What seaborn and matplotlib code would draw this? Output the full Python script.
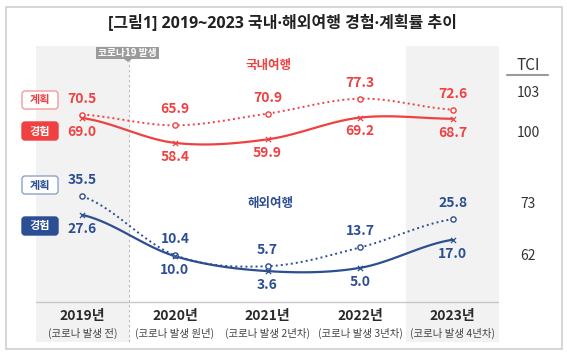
import numpy as np
import pandas as pd
import matplotlib
matplotlib.use('Agg')
import matplotlib.pyplot as plt
from matplotlib.patches import FancyBboxPatch, Rectangle, Polygon
import seaborn as sns

# data
years = ['2019년', '2020년', '2021년', '2022년', '2023년']
sub_labels = ['(코로나 발생 전)', '(코로나 발생 원년)', '(코로나 발생 2년차)',
              '(코로나 발생 3년차)', '(코로나 발생 4년차)']
dom_plan = [70.5, 65.9, 70.9, 77.3, 72.6]
dom_exp = [69.0, 58.4, 59.9, 69.2, 68.7]
ovs_plan = [35.5, 10.4, 5.7, 13.7, 25.8]
ovs_exp = [27.6, 10.0, 3.6, 5.0, 17.0]
tci_values = ['103', '100', '73', '62']

RED = '#EF4141'
RED_LIGHT = '#F59A9A'
BLUE = '#2C4E92'
BLUE_LIGHT = '#8EA2C8'
SHADE = '#F2F2F2'
TXT = '#333333'

sns.set_theme(style='white')
plt.rcParams['font.family'] = ['Noto Sans CJK KR', 'DejaVu Sans']
MIX = ['Open Sans', 'Noto Sans CJK KR']  # latin middle dot is narrower here


def smooth(vals, n=30):
    # catmull-rom curve through the points (like excel smoothed line)
    p = np.array(vals, dtype=float)
    p = np.concatenate([[p[0]], p, [p[-1]]])
    xs, ys = [], []
    t = np.linspace(0, 1, n, endpoint=False)
    for i in range(1, len(p) - 2):
        p0, p1, p2, p3 = p[i - 1], p[i], p[i + 1], p[i + 2]
        y = 0.5 * (2 * p1 + (-p0 + p2) * t + (2 * p0 - 5 * p1 + 4 * p2 - p3) * t ** 2
                   + (-p0 + 3 * p1 - 3 * p2 + p3) * t ** 3)
        xs.extend(i - 1 + t)
        ys.extend(y)
    xs.append(len(vals) - 1)
    ys.append(vals[-1])
    return pd.DataFrame({'x': xs, 'y': ys})


fig = plt.figure(figsize=(5.67, 3.57), dpi=100)
fig.patch.set_facecolor('white')

# main data axes (pixel box 36..499 x 46..342)
ax = fig.add_axes([36 / 567, 15 / 357, 463 / 567, 296 / 357])
ax.set_xlim(-0.5, 4.5)
ax.set_ylim(-26.7, 99.8)
ax.axis('off')

ax.axvspan(-0.5, 0.5, color=SHADE, lw=0, zorder=0)
ax.axvspan(3.5, 4.5, color=SHADE, lw=0, zorder=0)
ax.vlines(0.5, -26.7, 93.8, colors='#BDBDBD', linestyles=(0, (2.5, 2)), lw=0.8, zorder=1)
ax.axhline(-9.6, color='#C8C8C8', lw=1, zorder=1)

x = np.arange(len(years))
series = [
    (dom_plan, RED, 'plan'),
    (dom_exp, RED, 'exp'),
    (ovs_plan, BLUE, 'plan'),
    (ovs_exp, BLUE, 'exp'),
]
for vals, col, kind in series:
    curve = smooth(vals)
    if kind == 'plan':
        sns.lineplot(data=curve, x='x', y='y', ax=ax, color=col, lw=1.4,
                     linestyle=(0, (1, 1.6)), sort=False, estimator=None, zorder=3)
        ax.scatter(x, vals, s=14, marker='o', facecolor='white', edgecolor=col,
                   linewidth=1, zorder=4)
        off = 11.5
    else:
        sns.lineplot(data=curve, x='x', y='y', ax=ax, color=col, lw=1.6,
                     sort=False, estimator=None, zorder=3)
        ax.scatter(x, vals, s=14, marker='x', color=col, linewidth=0.9, zorder=4)
        off = -10
    for i, v in enumerate(vals):
        ax.annotate(f'{v:.1f}', (i, v), xytext=(0, off), textcoords='offset points',
                    ha='center', va='center', fontsize=10, color=col, fontweight='bold')

for i in range(len(years)):
    ax.text(i, -15.6, years[i], ha='center', va='center', fontsize=10, color='#2A2A2A',
            fontweight='bold')
    ax.text(i, -22.9, sub_labels[i], ha='center', va='center', fontsize=7.5, color='#444444')

# overlay canvas in pixel coordinates for frame, boxes and side notes
ax0 = fig.add_axes([0, 0, 1, 1])
ax0.set_xlim(0, 567)
ax0.set_ylim(357, 0)
ax0.axis('off')
ax0.patch.set_alpha(0)

ax0.add_patch(Rectangle((6, 7), 556, 342, fill=False, ec='#D0D0D0', lw=1.2))
ax0.text(283, 24, '[그림1] 2019~2023 국내·해외여행 경험·계획률 추이', ha='center', va='center',
         fontsize=11.5, color='#222222', fontweight='bold', family=MIX)

# corona tag
ax0.add_patch(Rectangle((96, 47), 63, 12, fc='#9B9B9B', ec='none'))
ax0.add_patch(Polygon([(124, 59), (132, 59), (128, 62)], fc='#9B9B9B', ec='none'))
ax0.text(127.5, 53, '코로나19 발생', ha='center', va='center', fontsize=7,
         color='white', fontweight='bold')

# series titles
ax0.text(268, 65, '국내여행', ha='center', va='center', fontsize=9, color=RED, fontweight='bold')
ax0.text(270, 203, '해외여행', ha='center', va='center', fontsize=9, color=BLUE, fontweight='bold')

# legend-like boxes on the left
boxes = [(100, '계획', RED, RED_LIGHT, False), (131, '경험', RED, RED, True),
         (185, '계획', BLUE, BLUE_LIGHT, False), (226, '경험', BLUE, BLUE, True)]
for yc, lab, col, edge, filled in boxes:
    ax0.add_patch(FancyBboxPatch((22, yc - 9), 36, 18, boxstyle='round,pad=0,rounding_size=3',
                                 fc=col if filled else 'white', ec=edge, lw=1))
    ax0.text(40, yc, lab, ha='center', va='center', fontsize=8,
             color='white' if filled else col, fontweight='bold')

# TCI column
ax0.text(528, 66, 'TCI', ha='center', va='center', fontsize=11, color=TXT)
ax0.plot([507, 548], [75, 75], color='#9A9A9A', lw=1.5)
for yc, t in zip([93, 133, 204, 256], tci_values):
    ax0.text(528, yc, t, ha='center', va='center', fontsize=10, color=TXT)

fig.savefig('out.png', dpi=100)
